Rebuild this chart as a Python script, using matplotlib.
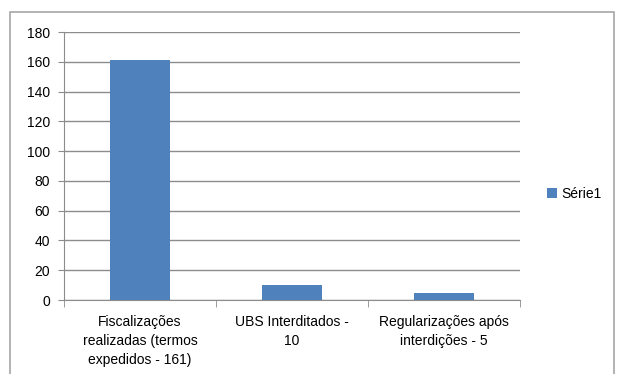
import matplotlib.pyplot as plt
from matplotlib.patches import Rectangle
from matplotlib.ticker import FixedLocator, NullFormatter

categories = ["Fiscalizações\nrealizadas (termos\nexpedidos - 161)",
              "UBS Interditados -\n10",
              "Regularizações após\ninterdições - 5"]
values = [161, 10, 5]
series_name = "Série1"

plt.rcParams['font.family'] = ['Liberation Sans', 'DejaVu Sans']

fig = plt.figure(figsize=(6.17, 3.74), dpi=100)
fig.patches.append(Rectangle((10/617, -0.1), 604/617, 1.1 - 12/374, transform=fig.transFigure,
                             fill=False, edgecolor='#a6a6a6', linewidth=1.2))

ax = fig.add_axes([64/617, 1 - 300/374, 456/617, 268/374])
x = list(range(len(values)))
ax.bar(x, values, width=0.4, color='#4F81BD', label=series_name, zorder=3)

ax.set_xlim(-0.5, len(values) - 0.5)
ax.set_ylim(0, 180)
ax.set_yticks(range(0, 181, 20))
ax.yaxis.grid(True, color='#8c8c8c', linewidth=1)
ax.set_axisbelow(True)

ax.set_xticks(x)
ax.set_xticklabels(categories, fontsize=10, linespacing=1.45)
ax.tick_params(axis='x', length=0, pad=11)
ax.xaxis.set_minor_locator(FixedLocator([-0.5, 0.5, 1.5, 2.5]))
ax.xaxis.set_minor_formatter(NullFormatter())
ax.tick_params(axis='x', which='minor', length=5, color='#8c8c8c')
ax.tick_params(axis='y', length=4, color='#8c8c8c', labelsize=10, pad=6)

for side in ['top', 'right']:
    ax.spines[side].set_visible(False)
for side in ['left', 'bottom']:
    ax.spines[side].set_color('#8c8c8c')

ax.legend(loc='center left', bbox_to_anchor=(1.06, 0.395), frameon=False, fontsize=10,
          handlelength=0.7, handleheight=0.7, handletextpad=0.3,
          borderaxespad=0, borderpad=0)

fig.savefig('out.png', dpi=100)
